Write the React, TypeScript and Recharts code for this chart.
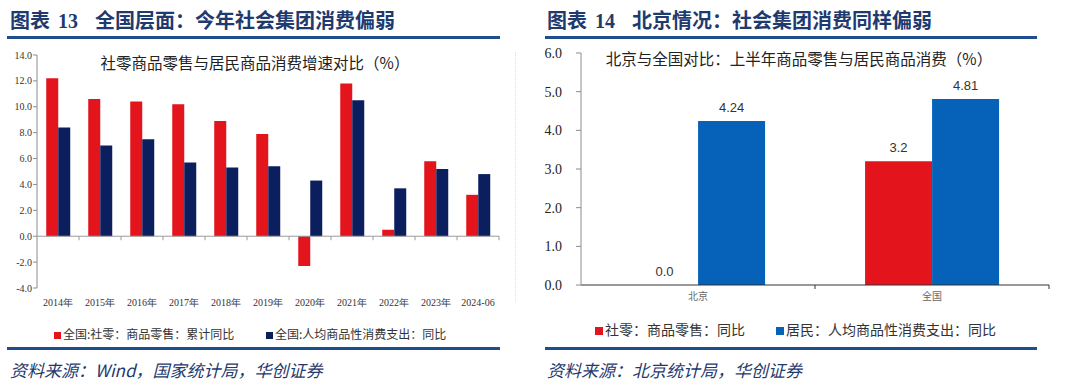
import React from 'react';
import { BarChart, Bar, XAxis, YAxis, ReferenceLine, LabelList } from 'recharts';

// 图表13：全国
const YEARS = ['2014年', '2015年', '2016年', '2017年', '2018年', '2019年', '2020年', '2021年', '2022年', '2023年', '2024-06'];
const NATION_RETAIL = [12.2, 10.6, 10.4, 10.2, 8.9, 7.9, -2.3, 11.8, 0.5, 5.8, 3.2];
const NATION_HOUSEHOLD = [8.4, 7.0, 7.5, 5.7, 5.3, 5.4, 4.3, 10.5, 3.7, 5.2, 4.8];
const LEFT_TICKS = [-4, -2, 0, 2, 4, 6, 8, 10, 12, 14];

// 图表14：北京 vs 全国
const REGIONS = ['北京', '全国'];
const REGION_RETAIL = [0, 3.2];
const REGION_HOUSEHOLD = [4.24, 4.81];
const RIGHT_TICKS = [0, 1, 2, 3, 4, 5, 6];

const RED = '#e3141c';
const NAVY = '#0b1f5e';
const BLUE = '#0562b8';
const HEAD = '#1f3a6e';
const RULE = '#1f4e8c';
const CJK = '"Noto Sans CJK SC", sans-serif';
const SERIF = '"Liberation Serif", "Times New Roman", serif';
const SANS = '"Liberation Sans", Arial, sans-serif';

const leftData = YEARS.map((year, i) => ({ year, retail: NATION_RETAIL[i], household: NATION_HOUSEHOLD[i] }));
const rightData = REGIONS.map((region, i) => ({ region, retail: REGION_RETAIL[i], household: REGION_HOUSEHOLD[i] }));

// zero line with little ticks at category boundaries
const zeroLine = (n: number, color: string) => (props: any) => {
  const { x1, y1, x2, y2 } = props;
  const step = (x2 - x1) / n;
  return (
    <g>
      <line x1={x1} y1={y1} x2={x2} y2={y2} stroke={color} strokeWidth={1} />
      {Array.from({ length: n }, (_, i) => (
        <line key={i} x1={x1 + step * (i + 1)} x2={x1 + step * (i + 1)} y1={y1} y2={y1 + 4} stroke={color} strokeWidth={1} />
      ))}
    </g>
  );
};

const fmt = (v: any) => (Number(v) === 0 ? '0.0' : String(v));

function Heading({ no, text, left }: { no: string; text: string; left: number }) {
  return (
    <div style={{ position: 'absolute', left, top: 7, color: HEAD, fontFamily: CJK, fontWeight: 700, fontSize: 20, whiteSpace: 'nowrap', lineHeight: '26px' }}>
      图表<span style={{ fontFamily: SERIF, marginLeft: 8 }}>{no}</span>
      <span style={{ marginLeft: 17 }}>{text}</span>
    </div>
  );
}

function Rule({ left, top, width }: { left: number; top: number; width: number }) {
  return <div style={{ position: 'absolute', left, top, width, height: 3, background: RULE }} />;
}

function Swatch({ color, size }: { color: string; size: number }) {
  return <span style={{ display: 'inline-block', width: size, height: size, background: color, marginRight: 2, verticalAlign: 'middle' }} />;
}

export default function App() {
  return (
    <div style={{ position: 'fixed', left: 0, top: 0, width: 1080, height: 385, background: '#fff', overflow: 'hidden' }}>
      {/* ---------- left panel ---------- */}
      <Heading no="13" text="全国层面：今年社会集团消费偏弱" left={10} />
      <Rule left={7} top={36} width={493} />
      <div style={{ position: 'absolute', left: 0, top: 0 }}>
        <BarChart width={540} height={320} data={leftData} margin={{ top: 55, right: 41, bottom: 12, left: 7 }} barCategoryGap="22%" barGap={0}>
          <XAxis dataKey="year" axisLine={false} tickLine={false} height={20} tickMargin={5} interval={0}
            tick={{ fontFamily: SERIF, fontSize: 10, fill: '#333' }} />
          <YAxis width={30} domain={[-4, 14]} ticks={LEFT_TICKS} tickFormatter={(v) => Number(v).toFixed(1)}
            axisLine={{ stroke: '#8c8c8c' }} tickLine={{ stroke: '#8c8c8c' }} tickSize={4} tickMargin={1}
            tick={{ fontFamily: SERIF, fontSize: 10, fill: '#333' }} />
          <ReferenceLine y={0} shape={zeroLine(YEARS.length, '#9a9a9a')} />
          <Bar dataKey="retail" fill={RED} isAnimationActive={false} />
          <Bar dataKey="household" fill={NAVY} isAnimationActive={false} />
        </BarChart>
      </div>
      <div style={{ position: 'absolute', left: 255, top: 52, transform: 'translateX(-50%)', fontFamily: CJK, fontSize: 15.5, color: '#222', whiteSpace: 'nowrap', lineHeight: '20px' }}>
        社零商品零售与居民商品消费增速对比（%）
      </div>
      <div style={{ position: 'absolute', left: 515, top: 52, height: 250, borderLeft: '1px dotted #e2e2e2' }} />
      <div style={{ position: 'absolute', left: 54, top: 326, fontFamily: CJK, fontSize: 12, color: '#333', whiteSpace: 'nowrap', lineHeight: '16px' }}>
        <Swatch color={RED} size={7} />全国:社零：商品零售：累计同比
      </div>
      <div style={{ position: 'absolute', left: 266, top: 326, fontFamily: CJK, fontSize: 12, color: '#333', whiteSpace: 'nowrap', lineHeight: '16px' }}>
        <Swatch color={NAVY} size={7} />全国:人均商品性消费支出：同比
      </div>
      <Rule left={7} top={347} width={493} />
      <div style={{ position: 'absolute', left: 10, top: 358, fontFamily: CJK, fontStyle: 'italic', fontSize: 17, color: HEAD, whiteSpace: 'nowrap', lineHeight: '24px' }}>
        资料来源：Wind，国家统计局，华创证券
      </div>

      {/* ---------- right panel ---------- */}
      <Heading no="14" text="北京情况：社会集团消费同样偏弱" left={547} />
      <Rule left={545} top={36} width={492} />
      <div style={{ position: 'absolute', left: 540, top: 0 }}>
        <BarChart width={540} height={320} data={rightData} margin={{ top: 53, right: 31, bottom: 15, left: 5 }} barCategoryGap="21.4%" barGap={0}>
          <XAxis dataKey="region" axisLine={false} tickLine={false} height={20}
            tick={{ fontFamily: CJK, fontSize: 10, fill: '#666' }} />
          <YAxis width={36} domain={[0, 6]} ticks={RIGHT_TICKS} tickFormatter={(v) => Number(v).toFixed(1)}
            axisLine={{ stroke: '#8c8c8c' }} tickLine={{ stroke: '#8c8c8c' }} tickSize={5} tickMargin={14}
            tick={{ fontFamily: SERIF, fontSize: 14, fill: '#222' }} />
          <Bar dataKey="retail" fill={RED} minPointSize={0.01} isAnimationActive={false}>
            <LabelList dataKey="retail" position="top" offset={9} formatter={fmt}
              style={{ fontFamily: SANS, fontSize: 13, fill: '#333' }} />
          </Bar>
          <Bar dataKey="household" fill={BLUE} isAnimationActive={false}>
            <LabelList dataKey="household" position="top" offset={9} formatter={fmt}
              style={{ fontFamily: SANS, fontSize: 13, fill: '#333' }} />
          </Bar>
          <ReferenceLine y={0} shape={zeroLine(REGIONS.length, '#333')} />
        </BarChart>
      </div>
      <div style={{ position: 'absolute', left: 799, top: 48, transform: 'translateX(-50%)', fontFamily: CJK, fontSize: 15.5, color: '#222', whiteSpace: 'nowrap', lineHeight: '20px' }}>
        北京与全国对比：上半年商品零售与居民商品消费（%）
      </div>
      <div style={{ position: 'absolute', left: 595, top: 320, fontFamily: CJK, fontSize: 14, color: '#333', whiteSpace: 'nowrap', lineHeight: '18px' }}>
        <Swatch color={RED} size={8} />社零：商品零售：同比
      </div>
      <div style={{ position: 'absolute', left: 776, top: 320, fontFamily: CJK, fontSize: 14, color: '#333', whiteSpace: 'nowrap', lineHeight: '18px' }}>
        <Swatch color={BLUE} size={8} />居民：人均商品性消费支出：同比
      </div>
      <Rule left={545} top={347} width={492} />
      <div style={{ position: 'absolute', left: 547, top: 358, fontFamily: CJK, fontStyle: 'italic', fontSize: 17, color: HEAD, whiteSpace: 'nowrap', lineHeight: '24px' }}>
        资料来源：北京统计局，华创证券
      </div>
    </div>
  );
}
